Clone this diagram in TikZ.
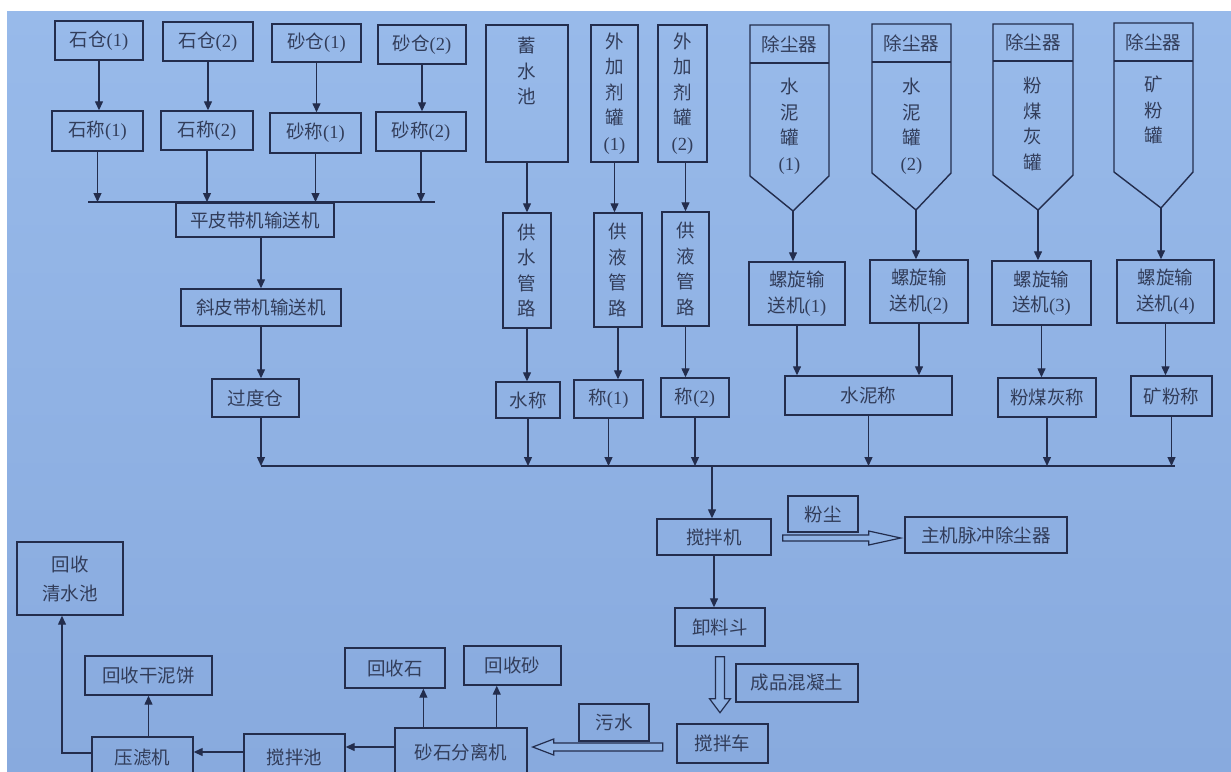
\documentclass[tikz,border=0pt]{standalone}
\usepackage{fontspec}
\setmainfont{Liberation Serif}
\newfontfamily\cjk{Noto Sans CJK SC}
\usetikzlibrary{arrows.meta,calc}
\definecolor{bgtop}{RGB}{152,186,234}
\definecolor{bgbot}{RGB}{136,170,222}
\definecolor{bgc}{RGB}{143,178,228}
\definecolor{lnc}{RGB}{35,45,77}
\definecolor{txc}{RGB}{50,61,90}
\newcommand\pn[1]{{\rmfamily(#1)}}
\newcommand\bx[7][]{%
  \pgfmathsetmacro\bw{#5-#3}\pgfmathsetmacro\bh{#6-#4}%
  \node[box,minimum width=\bw pt,minimum height=\bh pt,#1] (#2) at ({(#3+#5)/2},{(#4+#6)/2}) {#7};}
\newcommand\silo[9]{%
  \draw[lnw] (#2,#4) -- (#3,#4) -- (#3,#6) -- (#7,#8) -- (#2,#6) -- cycle;
  \draw[lnw] (#2,#5) -- (#3,#5);
  \node[lbl] (#1d) at ({(#2+#3)/2},{(#4+#5)/2}) {除尘器};
  \coordinate (#1tip) at (#7,#8);
  \node[lbl] (#1t) at ({(#2+#3)/2},#9) {\silotext};
}
\begin{document}
\begin{tikzpicture}[x=1pt,y=-1pt,
  lbl/.style={text=txc, font=\cjk\fontsize{18.5}{25.5}\selectfont, align=center, inner sep=0pt},
  box/.style={lbl, draw=lnc, line width=1.4pt},
  arr/.style={draw=lnc, line width=1.3pt, -{Triangle[length=9pt,width=8pt]}},
  lnw/.style={draw=lnc, line width=1.4pt},
  hol/.style={draw=lnc, line width=1.2pt, fill=bgc}
]
\useasboundingbox (0,0) rectangle (1231,771);
\fill[white] (0,0) rectangle (1231,771);
\shade[top color=bgtop, bottom color=bgbot] (7,11) rectangle (1231,771);
\clip (0,0) rectangle (1231,771);

% ---------- aggregate line ----------
\bx{sc1}{55}{21}{143}{60}{石仓\pn1}
\bx{sc2}{163}{22}{253}{61}{石仓\pn2}
\bx{ss1}{272}{24}{361}{62}{砂仓\pn1}
\bx{ss2}{378}{25}{466}{64}{砂仓\pn2}
\bx{wc1}{52}{111}{143}{151}{石称\pn1}
\bx{wc2}{161}{111}{253}{150}{石称\pn2}
\bx{ws1}{270}{113}{361}{153}{砂称\pn1}
\bx{ws2}{376}{112}{466}{151}{砂称\pn2}
\foreach \a/\b in {sc1/wc1,sc2/wc2,ss1/ws1,ss2/ws2}
  \draw[arr] (\a.south) -- (\a.south |- \b.north);
\coordinate (b1L) at (88,202);
\coordinate (b1R) at (435,202);
\bx{pp}{176}{203}{334}{237}{平皮带机输送机}
\draw[lnw] (b1L) -- (b1R);
\foreach \a in {wc1,wc2,ws1,ws2}
  \draw[arr] (\a.south) -- (\a.south |- b1L);
\bx{xp}{181}{289}{341}{326}{斜皮带机输送机}
\bx{gd}{212}{379}{299}{417}{过度仓}
\draw[arr] (xp.north |- pp.south) -- (xp.north);
\draw[arr] (xp.south) -- (xp.south |- gd.north);

% ---------- main bus ----------
\coordinate (busL) at (261,466);
\coordinate (busR) at (1175,466);
\draw[lnw] (busL) -- (busR);
\draw[arr] (xp.south |- gd.south) -- (busL);

% ---------- water and admixture ----------
\bx{xsc}{486}{25}{568}{162}{}
\node[lbl] (xsct) at (527,71) {蓄\\水\\池};
\bx{wj1}{591}{25}{638}{162}{外\\加\\剂\\罐\\\pn1}
\bx{wj2}{658}{25}{707}{162}{外\\加\\剂\\罐\\\pn2}
\bx{gs}{503}{213}{551}{328}{供\\水\\管\\路}
\bx{gy1}{594}{213}{642}{327}{供\\液\\管\\路}
\bx{gy2}{662}{212}{709}{326}{供\\液\\管\\路}
\bx{scw}{496}{382}{560}{418}{水称}
\bx{c1}{574}{380}{643}{418}{称\pn1}
\bx{c2}{661}{378}{729}{417}{称\pn2}
\draw[arr] (gs.north |- xsc.south) -- (gs.north);
\draw[arr] (wj1.south) -- (wj1.south |- gy1.north);
\draw[arr] (gy2.north |- wj2.south) -- (gy2.north);
\draw[arr] (gs.south) -- (gs.south |- scw.north);
\draw[arr] (gy1.south) -- (gy1.south |- c1.north);
\draw[arr] (gy2.south) -- (gy2.south |- c2.north);
\foreach \a in {scw,c1,c2}
  \draw[arr] (\a.south) -- (\a.south |- busL);

% ---------- powder silos ----------
\def\silotext{水\\泥\\罐\\\pn1}
\silo{s1}{750}{829}{25}{63}{176}{793}{211}{126}
\def\silotext{水\\泥\\罐\\\pn2}
\silo{s2}{872}{951}{24}{62}{173}{916}{210}{126}
\def\silotext{粉\\煤\\灰\\罐}
\silo{s3}{993}{1073}{24}{61}{175}{1038}{210}{124}
\def\silotext{矿\\粉\\罐}
\silo{s4}{1114}{1193}{23}{61}{172}{1161}{208}{110}

\bx{lx1}{749}{262}{845}{325}{螺旋输\\送机\pn1}
\bx{lx2}{870}{260}{968}{323}{螺旋输\\送机\pn2}
\bx{lx3}{992}{261}{1091}{325}{螺旋输\\送机\pn3}
\bx{lx4}{1117}{260}{1214}{323}{螺旋输\\送机\pn4}
\foreach \s/\b in {s1/lx1,s2/lx2,s3/lx3,s4/lx4}
  \draw[arr] (\s tip) -- (\s tip |- \b.north);
\bx{snc}{785}{376}{952}{415}{水泥称}
\bx{fmc}{998}{378}{1096}{417}{粉煤灰称}
\bx{kfc}{1131}{376}{1212}{416}{矿粉称}
\draw[arr] (lx1.south) -- (lx1.south |- snc.north);
\draw[arr] (lx2.south) -- (lx2.south |- snc.north);
\draw[arr] (lx3.south) -- (lx3.south |- fmc.north);
\draw[arr] (lx4.south) -- (lx4.south |- kfc.north);
\foreach \a in {snc,fmc,kfc}
  \draw[arr] (\a.south) -- (\a.south |- busR);

% ---------- mixer and output ----------
\bx{jbj}{657}{519}{771}{555}{搅拌机}
\bx{fc}{788}{496}{858}{532}{粉尘}
\bx{zj}{905}{517}{1067}{553}{主机脉冲除尘器}
\bx{xld}{675}{608}{765}{646}{卸料斗}
\bx{cp}{736}{664}{858}{702}{成品混凝土}
\bx{jbc}{677}{724}{768}{763}{搅拌车}
\bx{ws}{579}{704}{649}{741}{污水}
\draw[arr] ([xshift=-2pt]jbj.north |- busL) -- ([xshift=-2pt]jbj.north);
\draw[arr] (jbj.south) -- (jbj.south |- xld.north);
% dust hollow arrow
\coordinate (fa) at ([xshift=11pt,yshift=-1pt]jbj.east);
\draw[hol] (fa) ++(0,-3) -- ++(86,0) -- ++(0,-4) -- ++(32,7) -- ++(-32,7) -- ++(0,-4) -- ++(-86,0) -- cycle;
% concrete hollow arrow
\coordinate (da) at ([yshift=-10pt]xld.south);
\draw[hol] (da) ++(-4.5,0) -- ++(9,0) -- ++(0,42) -- ++(6,0) -- ++(-10.5,14) -- ++(-10.5,-14) -- ++(6,0) -- cycle;

% ---------- recycling ----------
\bx{sf}{395}{728}{527}{776}{砂石分离机}
\bx{hs}{345}{648}{445}{688}{回收石}
\bx{hsa}{464}{646}{561}{685}{回收砂}
\bx{jbcc}{244}{734}{345}{780}{搅拌池}
\bx{ylj}{92}{737}{193}{779}{压滤机}
\bx{gnb}{85}{656}{212}{695}{回收干泥饼}
\bx[font=\cjk\fontsize{18.5}{29}\selectfont]{qsc}{17}{542}{123}{615}{回收\\清水池}
% sewage hollow arrow
\coordinate (la) at ([xshift=5pt,yshift=5pt]sf.east);
\draw[hol] (la) -- ++(21,-8) -- ++(0,4) -- ++(109,0) -- ++(0,8) -- ++(-109,0) -- ++(0,4) -- cycle;
\coordinate (hsA) at ($(hs.south west)!.78!(hs.south east)$);
\coordinate (hsaA) at ($(hsa.south west)!.34!(hsa.south east)$);
\draw[arr] (hsA |- sf.north) -- (hsA);
\draw[arr] (hsaA |- sf.north) -- (hsaA);
\draw[arr] ([yshift=5pt]sf.west) -- ([yshift=5pt]sf.west -| jbcc.east);
\draw[arr] ([yshift=5pt]jbcc.west) -- ([yshift=5pt]jbcc.west -| ylj.east);
\draw[arr] (gnb.south |- ylj.north) -- (gnb.south);
\coordinate (qA) at ([xshift=-8pt]qsc.south);
\draw[arr] ([yshift=5pt]ylj.west) -| (qA);
\end{tikzpicture}
\end{document}
